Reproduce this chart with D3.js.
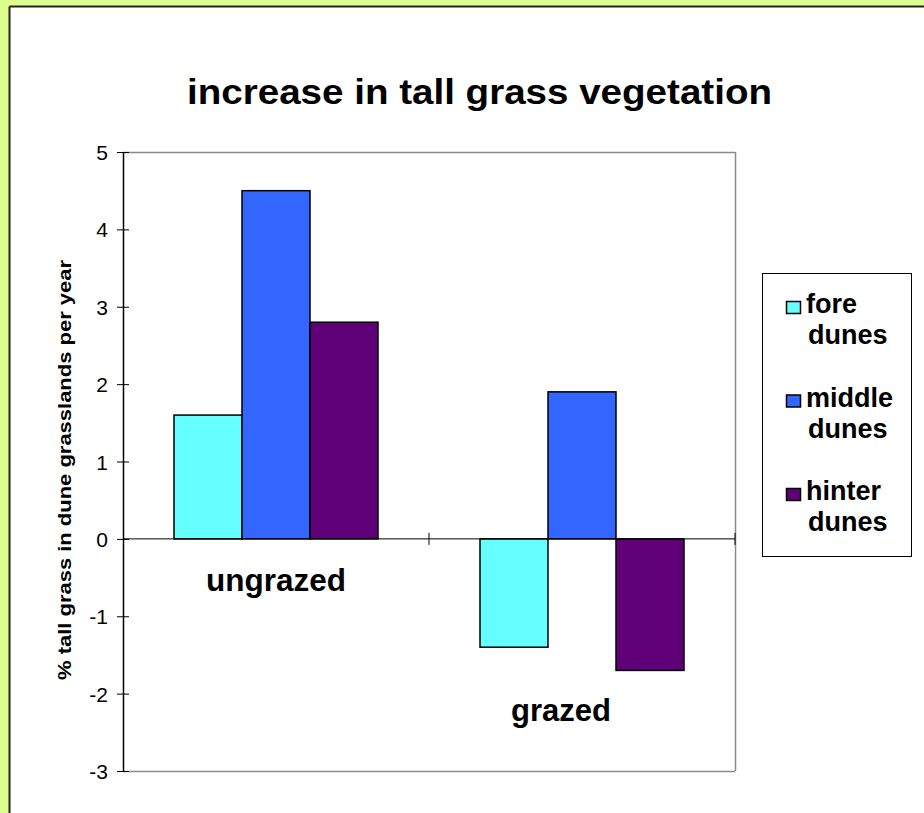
<!DOCTYPE html>
<html><head><meta charset="utf-8">
<script src="https://cdn.jsdelivr.net/npm/d3@7"></script>
<style>html,body{margin:0;padding:0;background:#fff;}svg{display:block;font-family:"Liberation Sans",Arial,sans-serif;}</style>
</head><body>
<svg id="c" width="924" height="813"></svg>
<script>
const categories = ["ungrazed", "grazed"];
const seriesNames = ["fore dunes", "middle dunes", "hinter dunes"];
const foreDunes = [1.6, -1.4];
const middleDunes = [4.5, 1.9];
const hinterDunes = [2.8, -1.7];
const yTicks = [5, 4, 3, 2, 1, 0, -1, -2, -3];
const seriesColors = ["#66FFFF", "#3366FF", "#600078"];
const title = "increase in tall grass vegetation";
const yTitle = "% tall grass in dune grasslands per year";

const seriesValues = [foreDunes, middleDunes, hinterDunes];
const svg = d3.select("#c");
const W = 924, H = 813;
const FF = "Liberation Sans, Arial, sans-serif";

svg.append("rect").attr("x",0).attr("y",0).attr("width",W).attr("height",H).attr("fill","#dcff8e");
svg.append("rect").attr("x",10).attr("y",7).attr("width",W).attr("height",H).attr("fill","#fff");
svg.append("line").attr("x1",9.5).attr("x2",W).attr("y1",6.5).attr("y2",6.5).attr("stroke","#222").attr("stroke-width",2);
svg.append("line").attr("x1",9.5).attr("x2",9.5).attr("y1",6.5).attr("y2",H).attr("stroke","#222").attr("stroke-width",2);

const L = 123, R = 735, T = 152, B = 771;
const x = d3.scaleBand().domain(categories).range([L, R]).paddingInner(0).paddingOuter(0);
const y = d3.scaleLinear().domain([-3, 5]).range([B, T]);
const inner = d3.scaleBand().domain(d3.range(seriesNames.length)).range([0, x.bandwidth()]).paddingOuter(0.75).paddingInner(0);

// plot border (top, right, bottom gray)
svg.append("line").attr("x1",L).attr("x2",R).attr("y1",T+0.5).attr("y2",T+0.5).attr("stroke","#8a8a8a").attr("stroke-width",1.5);
svg.append("line").attr("x1",R+0.5).attr("x2",R+0.5).attr("y1",T).attr("y2",B).attr("stroke","#8a8a8a").attr("stroke-width",1.5);
svg.append("line").attr("x1",L).attr("x2",R).attr("y1",B+0.5).attr("y2",B+0.5).attr("stroke","#8a8a8a").attr("stroke-width",1.5);

// bars
const data = [];
categories.forEach((c, ci) => seriesValues.forEach((vals, si) => data.push({c, si, v: vals[ci]})));
svg.append("g").selectAll("rect").data(data).join("rect")
  .attr("x", d => x(d.c) + inner(d.si))
  .attr("width", inner.bandwidth())
  .attr("y", d => y(Math.max(0, d.v)))
  .attr("height", d => Math.abs(y(d.v) - y(0)))
  .attr("fill", d => seriesColors[d.si])
  .attr("stroke", "#000").attr("stroke-width", 1.5);

// y axis
const yAxis = d3.axisLeft(y).tickValues(yTicks).tickSizeInner(6).tickSizeOuter(0).tickPadding(10).tickFormat(d => String(d));
const ga = svg.append("g").attr("transform", `translate(${L},0)`).call(yAxis);
ga.attr("font-size", null).attr("font-family", null);
ga.select(".domain").attr("stroke","#000").attr("stroke-width",1.5);
ga.selectAll(".tick line").attr("x1", 6).attr("x2", -6).attr("stroke","#000");
ga.selectAll(".tick text").attr("x", -15).style("font-size","21px").style("font-family",FF).attr("fill","#000").attr("dy","0.36em");

// x axis at zero
const xb = svg.append("g");
xb.append("line").attr("x1",L).attr("x2",R).attr("y1",y(0)).attr("y2",y(0)).attr("stroke","#000").attr("stroke-width",1);
const boundaries = categories.map(c => x(c) + x.bandwidth());
xb.selectAll(".tk").data(boundaries).join("line").attr("class","tk")
  .attr("x1", d => d).attr("x2", d => d).attr("y1", y(0)-6).attr("y2", y(0)+6).attr("stroke","#000");

// category labels
const labelPos = [{dx: 0, yv: -0.67, len: 140}, {dx: -21, yv: -2.35, len: 100}];
svg.selectAll(".cat").data(categories).join("text").attr("class","cat")
  .attr("x", (d,i) => x(d) + x.bandwidth()/2 + labelPos[i].dx)
  .attr("y", (d,i) => y(labelPos[i].yv))
  .attr("text-anchor","middle")
  .attr("textLength", (d,i) => labelPos[i].len).attr("lengthAdjust","spacingAndGlyphs")
  .style("font-size","31px").attr("font-weight","bold").text(d => d);

// title
svg.append("text").attr("x", 479.5).attr("y", 104).attr("text-anchor","middle")
  .attr("textLength", 585).attr("lengthAdjust","spacingAndGlyphs")
  .style("font-size","35px").attr("font-weight","bold").text(title);

// y title
svg.append("text").attr("transform","translate(71,470) rotate(-90)").attr("text-anchor","middle")
  .attr("textLength", 420).attr("lengthAdjust","spacingAndGlyphs")
  .style("font-size","19px").attr("font-weight","bold").text(yTitle);

// legend
const lg = svg.append("g");
lg.append("rect").attr("x",762.5).attr("y",273.5).attr("width",149).attr("height",283).attr("fill","#fff").attr("stroke","#000").attr("stroke-width",1);
seriesNames.forEach((name, i) => {
  const by = 313 + i * 93.5;
  const parts = name.split(" ");
  lg.append("rect").attr("x",786.5).attr("y",by-11.5).attr("width",14).attr("height",12)
    .attr("fill",seriesColors[i]).attr("stroke","#000").attr("stroke-width",1.5);
  lg.append("text").attr("x",806).attr("y",by).style("font-size","27px").attr("font-weight","bold").text(parts[0]);
  lg.append("text").attr("x",808).attr("y",by+31).style("font-size","27px").attr("font-weight","bold").text(parts[1]);
});
</script>
</body></html>
